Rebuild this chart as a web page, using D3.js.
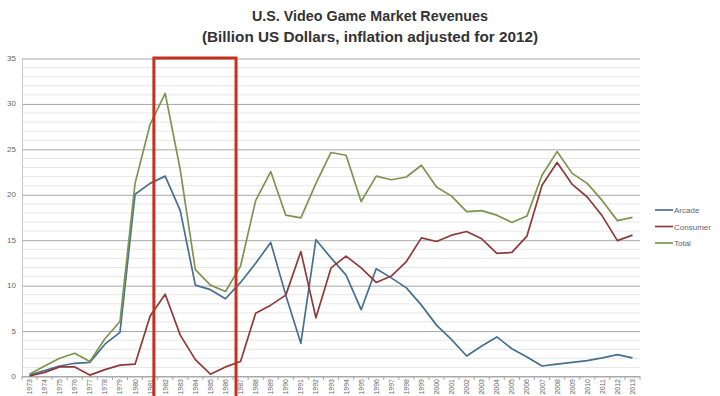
<!DOCTYPE html>
<html>
<head>
<meta charset="utf-8">
<script src="https://cdn.jsdelivr.net/npm/d3@7"></script>
<style>
  body { margin: 0; background: #fff; }
  svg { display: block; }
</style>
</head>
<body>
<svg id="chart" width="720" height="396"></svg>
<script>
// chart data (billion US$, 2012 dollars)
const years = d3.range(1973, 2014);
const arcade = [0.1, 0.6, 1.1, 1.4, 1.5, 3.5, 4.8, 20.0, 21.2, 22.0, 18.2, 10.0, 9.5, 8.5,
  10.3, 12.4, 14.7, 8.9, 3.6, 15.0, 13.0, 11.1, 7.3, 11.8, 10.8, 9.7, 7.8, 5.6, 4.0, 2.2,
  3.3, 4.3, 3.0, 2.1, 1.1, 1.3, 1.5, 1.7, 2.0, 2.35, 2.0];
const consumer = [0.0, 0.4, 1.0, 1.0, 0.1, 0.7, 1.2, 1.3, 6.6, 9.0, 4.5, 1.8, 0.2, 1.0,
  1.6, 6.9, 7.8, 8.9, 13.7, 6.4, 11.9, 13.2, 11.9, 10.3, 11.0, 12.6, 15.2, 14.8, 15.5, 15.9,
  15.1, 13.5, 13.6, 15.4, 21.0, 23.5, 21.1, 19.7, 17.6, 14.9, 15.5];
const total = [0.2, 1.1, 1.95, 2.5, 1.6, 4.1, 6.0, 21.2, 27.7, 31.1, 22.7, 11.7, 10.0, 9.3,
  12.1, 19.3, 22.5, 17.7, 17.4, 21.2, 24.6, 24.3, 19.2, 22.0, 21.6, 21.9, 23.2, 20.8, 19.8, 18.1,
  18.2, 17.7, 16.9, 17.6, 22.1, 24.7, 22.3, 21.2, 19.3, 17.1, 17.45];
const seriesNames = ["Arcade", "Consumer", "Total"];
const yTicks = [0, 5, 10, 15, 20, 25, 30, 35];
const titleLines = ["U.S. Video Game Market Revenues", "(Billion US Dollars, inflation adjusted for 2012)"];
// highlighted period (red box), in fractional years
const highlight = [1981.25, 1986.7];

// layout
const margin = { left: 22, right: 80, top: 58, bottom: 20 };
const W = 720, H = 396;
const plotW = W - margin.left - margin.right;
const plotH = H - margin.top - margin.bottom;
const colors = ["#47708f", "#8f3a3a", "#7e9450"];
const font = "'Liberation Sans', Arial, sans-serif";

const svg = d3.select("#chart");

// scales
var x = d3.scalePoint()
  .domain(years)
  .range([margin.left, margin.left + plotW])
  .padding(0.5);

var y = d3.scaleLinear()
  .domain([0, 35])
  .range([margin.top + plotH, margin.top]);

// fractional year -> pixel, for the annotation box
function xYear(v) {
  const i = Math.floor(v);
  return x(i) + (v - i) * x.step();
}

// minor gridlines
svg.append("g")
  .selectAll("line")
  .data(d3.range(1, 35).filter(d => d % 5 !== 0))
  .join("line")
  .attr("x1", margin.left)
  .attr("x2", margin.left + plotW)
  .attr("y1", d => y(d) + 0.5)
  .attr("y2", d => y(d) + 0.5)
  .attr("stroke", "#e6e6e6")
  .attr("stroke-width", 1);

// major gridlines + y labels
svg.append("g")
  .attr("transform", `translate(${margin.left},0)`)
  .call(d3.axisLeft(y).tickValues(yTicks).tickSize(-plotW).tickPadding(6))
  .call(g => g.select(".domain").remove())
  .call(g => g.selectAll(".tick line").attr("stroke", "#a8a8a8").attr("transform", "translate(0,0.5)"))
  .call(g => g.selectAll(".tick text")
    .attr("fill", "#666")
    .style("font", "8px " + font));

// y axis line
svg.append("line")
  .attr("x1", margin.left + 0.5).attr("x2", margin.left + 0.5)
  .attr("y1", y(35)).attr("y2", y(0))
  .attr("stroke", "#c8c8c8");

// x axis (ticks between categories, labels rotated)
const xAxis = svg.append("g")
  .attr("transform", `translate(0,${y(0)})`);

xAxis.append("line")
  .attr("x1", margin.left).attr("x2", margin.left + plotW)
  .attr("y1", 0.5).attr("y2", 0.5)
  .attr("stroke", "#a8a8a8");

xAxis.selectAll(".tk")
  .data(d3.range(years.length + 1))
  .join("line")
  .attr("class", "tk")
  .attr("x1", i => margin.left + i * x.step())
  .attr("x2", i => margin.left + i * x.step())
  .attr("y1", 0).attr("y2", 4)
  .attr("stroke", "#a8a8a8");

xAxis.selectAll("text")
  .data(years)
  .join("text")
  .attr("transform", d => `translate(${x(d) + 2.5},3) rotate(-90)`)
  .attr("text-anchor", "end")
  .attr("fill", "#666")
  .style("font", "7px " + font)
  .text(d => d);

// lines
const allSeries = [arcade, consumer, total];
const line = d3.line()
  .x((d, i) => x(years[i]))
  .y(d => y(d));

svg.append("g")
  .selectAll("path")
  .data(allSeries)
  .join("path")
  .attr("fill", "none")
  .attr("stroke", (d, i) => colors[i])
  .attr("stroke-width", 1.7)
  .attr("stroke-linejoin", "round")
  .attr("d", line);

// red highlight box
svg.append("rect")
  .attr("x", xYear(highlight[0]))
  .attr("y", y(35))
  .attr("width", xYear(highlight[1]) - xYear(highlight[0]))
  .attr("height", H - y(35) + 10)
  .attr("fill", "none")
  .attr("stroke", "#c7301f")
  .attr("stroke-width", 3);

// legend
const legend = svg.append("g")
  .attr("transform", `translate(${margin.left + plotW + 15},210)`);

seriesNames.forEach((s, i) => {
  legend.append("line")
    .attr("x1", 0).attr("x2", 18)
    .attr("y1", i * 16.5).attr("y2", i * 16.5)
    .attr("stroke", colors[i])
    .attr("stroke-width", 1.7);
  legend.append("text")
    .attr("x", 19)
    .attr("y", i * 16.5 + 3)
    .attr("fill", "#666")
    .style("font", "8px " + font)
    .text(s);
});

// title
svg.append("g")
  .selectAll("text")
  .data(titleLines)
  .join("text")
  .attr("x", 370)
  .attr("y", (d, i) => 21 + i * 21)
  .attr("text-anchor", "middle")
  .attr("fill", "#333")
  .attr("textLength", (d, i) => i === 0 ? 236 : 336)
  .attr("lengthAdjust", "spacingAndGlyphs")
  .style("font", "bold 15px " + font)
  .text(d => d);
</script>
</body>
</html>
